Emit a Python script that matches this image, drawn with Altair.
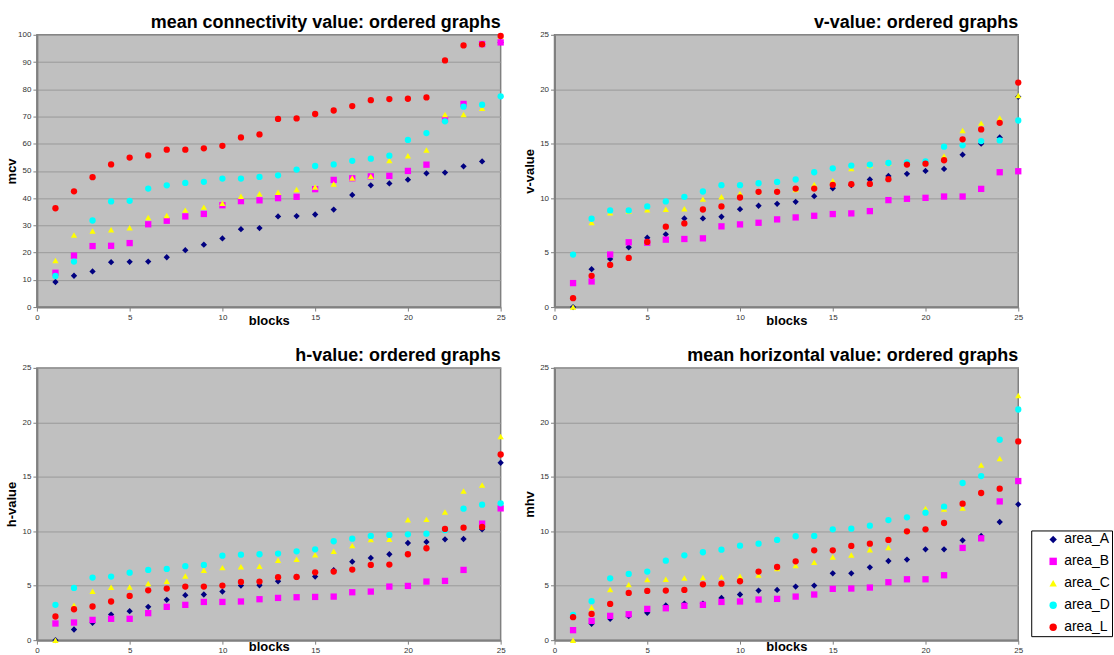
import altair as alt
import pandas as pd

blocks = list(range(1, 26))
series = ["area_A", "area_B", "area_C", "area_D", "area_L"]
colors = ["#000080", "#FF00FF", "#FFFF00", "#00FFFF", "#FF0000"]
shapes = ["diamond", "square", "triangle-up", "circle", "circle"]

# mean connectivity value
mcv_A = [9.2, 11.5, 13.1, 16.5, 16.6, 16.7, 18.3, 20.9, 22.9, 25.2, 28.6, 29.0, 33.3, 33.4, 34.0, 35.8, 41.2, 44.7, 45.4, 46.8, 49.1, 49.4, 51.7, 53.5, 97.2]
mcv_B = [12.6, 18.9, 22.4, 22.5, 23.5, 30.4, 31.7, 33.3, 34.2, 37.4, 38.9, 39.2, 40.0, 40.5, 43.3, 46.7, 47.3, 48.0, 48.2, 50.0, 52.3, 69.0, 74.6, 96.6, 97.2]
mcv_C = [17.1, 26.5, 27.9, 28.4, 29.1, 32.9, 33.6, 35.6, 36.7, 38.1, 40.7, 41.6, 42.2, 43.2, 44.1, 45.2, 47.4, 48.0, 53.8, 55.6, 57.7, 70.7, 70.7, 73.0, 99.6]
mcv_D = [11.4, 16.7, 31.8, 38.8, 39.0, 43.5, 44.7, 45.6, 46.0, 47.2, 47.2, 47.8, 48.4, 50.5, 51.8, 52.4, 53.7, 54.5, 55.6, 61.4, 63.9, 68.2, 73.6, 74.3, 77.4]
mcv_L = [36.3, 42.5, 47.7, 52.4, 54.9, 55.7, 57.8, 57.8, 58.3, 59.2, 62.3, 63.4, 69.1, 69.3, 70.9, 72.2, 73.8, 76.0, 76.4, 76.5, 77.0, 90.6, 96.1, 96.5, 99.6]

# v-value
v_A = [0.0, 3.48, 4.42, 5.49, 6.37, 6.68, 8.14, 8.14, 8.29, 8.99, 9.30, 9.48, 9.66, 10.18, 10.91, 11.2, 11.71, 12.04, 12.23, 12.50, 12.68, 13.99, 15.0, 15.58, 19.3]
v_B = [2.20, 2.35, 4.82, 5.95, 5.91, 6.19, 6.25, 6.31, 7.41, 7.59, 7.74, 8.05, 8.23, 8.38, 8.54, 8.60, 8.81, 9.82, 9.94, 10.03, 10.15, 10.15, 10.85, 12.38, 12.47]
v_C = [0.0, 7.77, 8.66, 8.8, 8.93, 8.99, 9.02, 9.91, 10.12, 10.43, 10.6, 10.7, 10.79, 11.25, 11.6, 12.71, 13.0, 13.2, 13.2, 13.3, 13.87, 16.22, 16.89, 17.35, 19.42]
v_D = [4.82, 8.11, 8.87, 8.87, 9.24, 9.70, 10.12, 10.61, 11.19, 11.19, 11.37, 11.49, 11.71, 12.38, 12.74, 12.99, 13.08, 13.23, 13.29, 13.38, 14.73, 14.85, 15.24, 15.30, 17.13]
v_L = [0.82, 2.87, 3.87, 4.51, 5.98, 7.38, 7.68, 8.96, 9.24, 10.06, 10.58, 10.58, 10.88, 10.88, 11.22, 11.28, 11.31, 11.74, 13.08, 13.17, 13.48, 15.40, 16.31, 16.92, 20.61]

# h-value
h_A = [0.0, 0.98, 1.59, 2.35, 2.66, 3.06, 3.70, 4.13, 4.19, 4.46, 5.01, 5.04, 5.41, 5.8, 5.84, 6.42, 7.21, 7.55, 7.89, 8.92, 9.02, 9.26, 9.29, 10.18, 16.29]
h_B = [1.53, 1.62, 1.86, 1.96, 1.96, 2.48, 3.06, 3.24, 3.51, 3.51, 3.55, 3.76, 3.88, 3.94, 3.97, 4.0, 4.40, 4.46, 4.92, 4.98, 5.38, 5.44, 6.45, 10.70, 12.10]
h_C = [0.0, 3.2, 4.49, 4.86, 4.89, 5.2, 5.41, 5.90, 6.42, 6.66, 6.75, 6.78, 7.33, 7.43, 7.85, 8.16, 8.68, 9.23, 9.26, 11.06, 11.09, 11.77, 13.69, 14.24, 18.7]
h_D = [3.24, 4.80, 5.75, 5.84, 6.20, 6.45, 6.54, 6.79, 6.91, 7.76, 7.85, 7.89, 7.95, 8.16, 8.34, 9.08, 9.32, 9.57, 9.66, 9.72, 9.78, 10.1, 12.07, 12.44, 12.56]
h_L = [2.17, 2.84, 3.09, 3.55, 4.06, 4.58, 4.74, 4.92, 4.92, 5.01, 5.35, 5.38, 5.78, 5.81, 6.23, 6.30, 6.48, 6.91, 6.94, 7.89, 8.44, 10.21, 10.33, 10.39, 17.05]

# mean horizontal value
mhv_A = [2.2, 1.50, 1.96, 2.20, 2.51, 3.18, 3.36, 3.36, 3.88, 4.19, 4.55, 4.61, 4.92, 5.01, 6.14, 6.14, 6.69, 7.27, 7.40, 8.34, 8.34, 9.17, 9.57, 10.85, 12.47]
mhv_B = [0.92, 1.77, 2.23, 2.38, 2.87, 2.93, 3.15, 3.24, 3.51, 3.55, 3.73, 3.79, 4.0, 4.19, 4.71, 4.74, 4.83, 5.32, 5.59, 5.59, 5.96, 8.47, 9.35, 12.74, 14.61]
mhv_C = [0.0, 3.0, 4.65, 5.10, 5.56, 5.59, 5.71, 5.75, 5.81, 5.87, 5.99, 6.57, 6.85, 7.15, 7.64, 7.82, 8.31, 8.50, 10.0, 12.10, 12.04, 12.13, 16.08, 16.69, 22.46]
mhv_D = [2.32, 3.58, 5.68, 6.08, 6.30, 7.30, 7.79, 8.07, 8.31, 8.68, 8.86, 9.20, 9.54, 9.57, 10.18, 10.24, 10.51, 11.03, 11.28, 11.71, 12.26, 14.43, 15.07, 18.40, 21.18]
mhv_L = [2.11, 2.41, 3.33, 4.34, 4.52, 4.55, 4.61, 5.13, 5.19, 5.41, 6.30, 6.72, 7.24, 8.25, 8.25, 8.65, 8.86, 9.20, 9.99, 10.18, 10.76, 12.53, 13.51, 13.91, 18.25]

FONT = "Liberation Sans"
PW, PH = 465, 273


def panel(vals, title, ytitle, ymax, ystep, xtitle_y, show_legend=False):
    rows = []
    for s, vv in zip(series, vals):
        for b, v in zip(blocks, vv):
            rows.append({"block": b, "series": s, "value": v})
    df = pd.DataFrame(rows)
    if show_legend:
        leg = alt.Legend(title=None, orient="none", legendX=478, legendY=163,
                         strokeColor="black", fillColor="white", padding=2,
                         labelFont=FONT, labelFontSize=14, labelColor="black",
                         symbolSize=55, symbolOffset=13, labelOffset=4,
                         rowPadding=8, symbolStrokeWidth=0)
    else:
        leg = None
    return alt.Chart(df).mark_point(filled=True, opacity=1, size=40, strokeWidth=0).encode(
        x=alt.X("block:Q", scale=alt.Scale(domain=[0, 25], nice=False, zero=True),
                axis=alt.Axis(values=[0, 5, 10, 15, 20, 25], title="blocks", grid=False,
                              labelFlush=False,
                              titleY=xtitle_y, titleBaseline="alphabetic")),
        y=alt.Y("value:Q", scale=alt.Scale(domain=[0, ymax], nice=False),
                axis=alt.Axis(values=list(range(0, ymax + 1, ystep)), title=ytitle,
                              grid=True, titleX=-18)),
        color=alt.Color("series:N", scale=alt.Scale(domain=series, range=colors), legend=leg),
        shape=alt.Shape("series:N", scale=alt.Scale(domain=series, range=shapes), legend=leg),
    ).properties(
        width=PW, height=PH,
        title=alt.TitleParams(text=title, anchor="end", frame="group", fontSize=18,
                              font=FONT, fontWeight="bold", color="black",
                              baseline="alphabetic", offset=-15),
    )


p1 = panel([mcv_A, mcv_B, mcv_C, mcv_D, mcv_L], "mean connectivity value: ordered graphs", "mcv", 100, 10, 17)
p2 = panel([v_A, v_B, v_C, v_D, v_L], "v-value: ordered graphs", "v-value", 25, 5, 17)
p3 = panel([h_A, h_B, h_C, h_D, h_L], "h-value: ordered graphs", "h-value", 25, 5, 10)
p4 = panel([mhv_A, mhv_B, mhv_C, mhv_D, mhv_L], "mean horizontal value: ordered graphs", "mhv", 25, 5, 10, show_legend=True)

chart = alt.concat(p1, p2, p3, p4, columns=2, spacing={"row": 61, "column": 54}, bounds="flush").resolve_scale(
    color="independent", shape="independent"
).resolve_legend(color="independent", shape="independent").properties(
    padding={"left": 5, "top": 12, "right": 0, "bottom": 0},
    background="white",
).configure_view(
    fill="#C0C0C0", stroke="#808080", strokeWidth=1.5
).configure_axis(
    labelFont=FONT, labelFontSize=8, labelColor="#333333", labelPadding=2,
    tickSize=4, tickColor="#808080", domainColor="#808080", domainWidth=2,
    titleFont=FONT, titleFontSize=13, titleFontWeight="bold", titleColor="black",
    gridColor="#9a9a9a", gridWidth=1,
)

chart.save("out.html", embed_options={"renderer": "svg", "actions": False})
